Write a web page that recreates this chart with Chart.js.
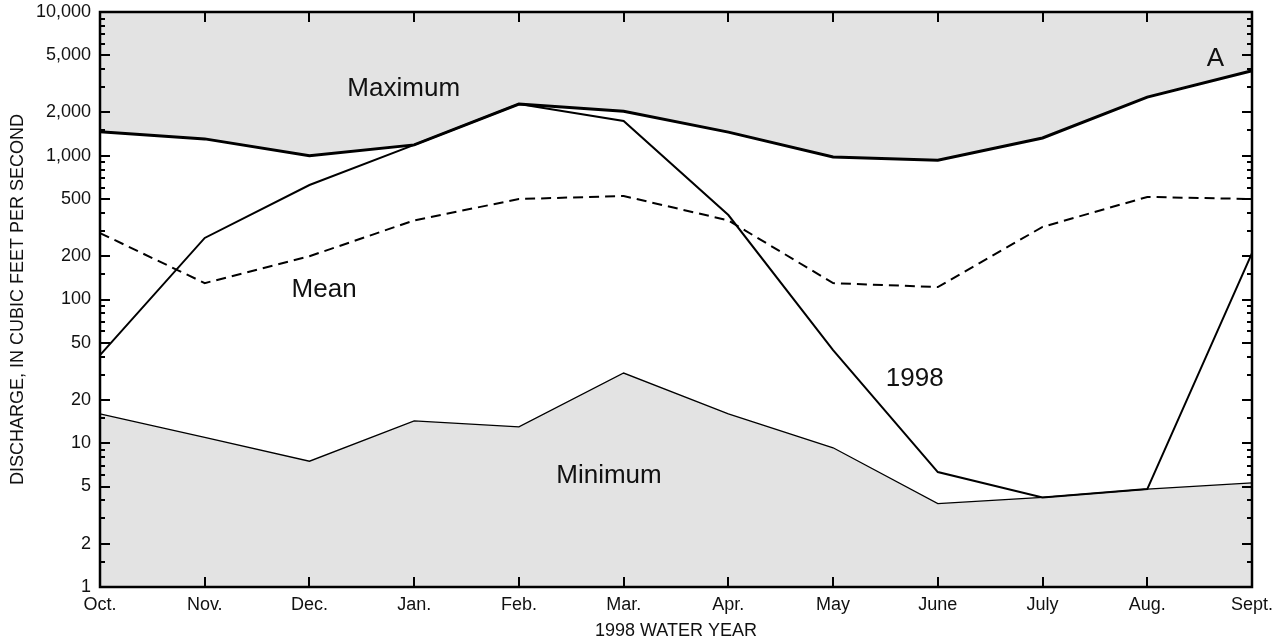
<!DOCTYPE html>
<html lang="en">
<head>
<meta charset="UTF-8">
<title>1998 Water Year Discharge</title>
<style>
  html, body { margin: 0; padding: 0; background: #fff; }
  .wrap { width: 1286px; height: 643px; }
</style>
</head>
<body>
<div class="wrap"><canvas id="plot" width="1286" height="643"></canvas></div>
<script src="https://cdn.jsdelivr.net/npm/chart.js"></script>
<script>
const months = ['Oct.', 'Nov.', 'Dec.', 'Jan.', 'Feb.', 'Mar.', 'Apr.', 'May', 'June', 'July', 'Aug.', 'Sept.'];

const maximum = [1470, 1310, 1000, 1190, 2290, 2040, 1460, 980, 930, 1330, 2560, 3900];
const mean = [290, 130, 200, 355, 500, 525, 355, 130, 122, 320, 517, 500];
const wy1998 = [41, 268, 626, 1190, 2290, 1745, 387, 44.5, 6.3, 4.2, 4.8, 210];
const minimum = [16, 11, 7.5, 14.3, 13, 30.8, 16, 9.3, 3.8, 4.2, 4.8, 5.3];

const majorTicks = [1, 2, 5, 10, 20, 50, 100, 200, 500, 1000, 2000, 5000, 10000];
const minorSteps = [1.5, 3, 4, 6, 7, 8, 9];
const decades = [1, 10, 100, 1000];

// label text, x position (month index), y value
const notes = [
  ['Maximum', 2.9, 2900],
  ['Mean', 2.14, 116],
  ['1998', 7.78, 28],
  ['Minimum', 4.86, 5.9],
  ['A', 10.65, 4700],
];

const font = 'Liberation Sans, Arial, Helvetica, sans-serif';
const shade = '#e3e3e3';

const frame = {
  id: 'frame',
  afterDraw(chart) {
    const { ctx, chartArea: a, scales: { x, y } } = chart;
    ctx.save();
    ctx.strokeStyle = '#000';
    ctx.lineWidth = 2;
    ctx.beginPath();
    majorTicks.forEach((v) => {
      const py = Math.round(y.getPixelForValue(v));
      ctx.moveTo(a.left, py); ctx.lineTo(a.left + 10, py);
      ctx.moveTo(a.right, py); ctx.lineTo(a.right - 10, py);
    });
    decades.forEach((d) => {
      minorSteps.forEach((s) => {
        const py = Math.round(y.getPixelForValue(d * s));
        ctx.moveTo(a.left, py); ctx.lineTo(a.left + 5, py);
        ctx.moveTo(a.right, py); ctx.lineTo(a.right - 5, py);
      });
    });
    months.forEach((m, i) => {
      const px = Math.round(x.getPixelForValue(i));
      ctx.moveTo(px, a.top); ctx.lineTo(px, a.top + 10);
      ctx.moveTo(px, a.bottom); ctx.lineTo(px, a.bottom - 10);
    });
    ctx.stroke();
    ctx.lineWidth = 2.5;
    ctx.strokeRect(a.left, a.top, a.right - a.left, a.bottom - a.top);

    ctx.fillStyle = '#111';
    ctx.font = '26px ' + font;
    ctx.textAlign = 'center';
    ctx.textBaseline = 'middle';
    notes.forEach(([t, i, v]) => {
      ctx.fillText(t, x.getPixelForValue(i), y.getPixelForValue(v));
    });
    ctx.restore();
  }
};

new Chart(document.getElementById('plot'), {
  type: 'line',
  data: {
    labels: months,
    datasets: [
      {
        label: 'Maximum',
        data: maximum,
        borderColor: '#000',
        borderWidth: 3,
        backgroundColor: shade,
        fill: 'end',
        pointRadius: 0,
        tension: 0,
      },
      {
        label: 'Minimum',
        data: minimum,
        borderColor: '#000',
        borderWidth: 1.3,
        backgroundColor: shade,
        fill: 'start',
        pointRadius: 0,
        tension: 0,
      },
      {
        label: 'Mean',
        data: mean,
        borderColor: '#000',
        borderWidth: 2,
        borderDash: [10, 6],
        fill: false,
        pointRadius: 0,
        tension: 0,
      },
      {
        label: '1998',
        data: wy1998,
        borderColor: '#000',
        borderWidth: 2,
        fill: false,
        pointRadius: 0,
        tension: 0,
      },
    ]
  },
  options: {
    responsive: false,
    animation: false,
    layout: { padding: { top: 12, right: 34, left: 0, bottom: 0 } },
    plugins: {
      legend: { display: false },
      tooltip: { enabled: false },
      filler: { drawTime: 'beforeDatasetsDraw' },
    },
    scales: {
      x: {
        type: 'category',
        offset: false,
        grid: { display: false, drawTicks: false },
        border: { display: false },
        ticks: {
          color: '#111',
          padding: 7,
          maxRotation: 0,
          autoSkip: false,
          font: { family: font, size: 18 },
        },
        title: {
          display: true,
          text: '1998 WATER YEAR',
          color: '#111',
          padding: { top: 0, bottom: 1 },
          font: { family: font, size: 18 },
        },
        afterFit(scale) {
          scale.height = 56;
          scale.paddingLeft = 0;
          scale.paddingRight = 0;
        },
      },
      y: {
        type: 'logarithmic',
        min: 1,
        max: 10000,
        grid: { display: false, drawTicks: false },
        border: { display: false },
        afterBuildTicks(scale) {
          scale.ticks = majorTicks.map((v) => ({ value: v }));
        },
        ticks: {
          color: '#111',
          padding: 9,
          autoSkip: false,
          font: { family: font, size: 18 },
          callback: (v) => Number(v).toLocaleString('en-US'),
        },
        title: {
          display: true,
          text: 'DISCHARGE, IN CUBIC FEET PER SECOND',
          color: '#111',
          padding: { top: 7, bottom: 0 },
          font: { family: font, size: 18 },
        },
        afterFit(scale) {
          scale.width = 100;
          scale.paddingTop = 0;
          scale.paddingBottom = 0;
        },
      },
    },
  },
  plugins: [frame],
});
</script>
</body>
</html>
